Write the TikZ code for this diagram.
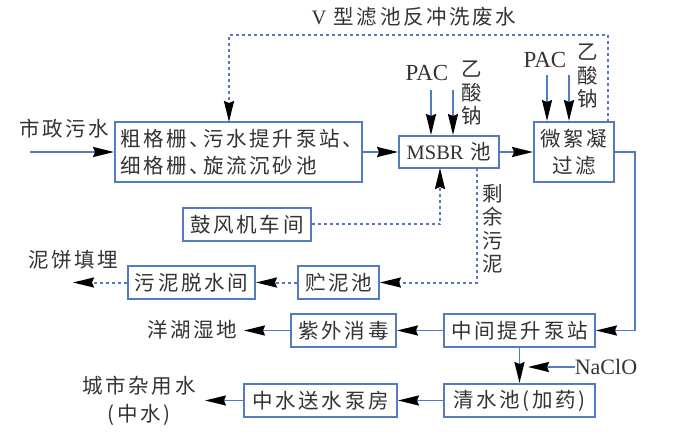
\documentclass[tikz,border=0pt]{standalone}
\usepackage{fontspec}
\usepackage{tikz}
\usetikzlibrary{arrows.meta}
\setmainfont{Liberation Serif}
\newfontfamily\cjk[LetterSpace=13]{Noto Sans CJK SC}
\definecolor{cblue}{rgb}{0.33, 0.48, 0.76}
\definecolor{cgray}{rgb}{0.2, 0.2, 0.2}
\newcommand{\dunhao}{、\kern-7pt}

\begin{document}
\begin{tikzpicture}[x=1pt,y=-1pt,>={Stealth[length=21pt,width=10pt,inset=2pt,color=black,fill=black]},
  box node/.style={draw=cblue,line width=1.9pt,fill=white,inner sep=0pt,text=cgray,
        font=\cjk\fontsize{20.5}{23.5}\selectfont,align=center},
  label node/.style={inner sep=0pt,text=cgray,font=\cjk\fontsize{20.5}{23.5}\selectfont,align=center},
  latin node/.style={inner sep=0pt,text=cgray,font=\rmfamily\fontsize{23}{26}\selectfont},
  flow line/.style={->,cblue,line width=1.9pt},
  dot line/.style={->,cblue,line width=2pt,dash pattern=on 3pt off 3pt}]
  \useasboundingbox (0,0) rectangle (690,446);

  \node[box node,minimum width=247,minimum height=60] (pre) at (238.5,152) {\parbox{236pt}{粗格栅\dunhao 污水提升泵站\dunhao\\[4pt]细格栅\dunhao 旋流沉砂池}};
  \node[box node,minimum width=100,minimum height=32] (msbr) at (449,152) {{\rmfamily MSBR} 池};
  \node[box node,minimum width=80,minimum height=60] (filter) at (574,152) {微絮凝\\[4pt]过滤};
  \node[box node,minimum width=128,minimum height=33] (blower) at (247,224.5) {鼓风机车间};
  \node[box node,minimum width=127,minimum height=33] (dewater) at (191.5,282.5) {污泥脱水间};
  \node[box node,minimum width=81,minimum height=33] (store) at (338.5,282.5) {贮泥池};
  \node[box node,minimum width=105,minimum height=33] (uv) at (343.5,330.5) {紫外消毒};
  \node[box node,minimum width=151,minimum height=33] (lift) at (519.5,330.5) {中间提升泵站};
  \node[box node,minimum width=153,minimum height=33] (send) at (320.5,400.5) {中水送水泵房};
  \node[box node,minimum width=151,minimum height=33] (clear) at (519.5,400.5) {清水池(加药)};

  \node[label node] (city) at (64,129) {市政污水};
  \node[label node] (backwash) at (414,17) {{\rmfamily V} 型滤池反冲洗废水};
  \node[latin node] (pac1) at (427,73) {PAC};
  \node[label node] (acid1) at (472,93) {乙\\酸\\钠};
  \node[latin node] (pac2) at (545,60) {PAC};
  \node[label node] (acid2) at (588,76) {乙\\酸\\钠};
  \node[label node] (sludge) at (493,229) {剩\\余\\污\\泥};
  \node[label node] (cake) at (73,260) {泥饼填埋};
  \node[label node] (lake) at (192,330) {洋湖湿地};
  \node[label node] (reuse) at (139,401) {城市杂用水\\[5pt](中水)};
  \node[latin node,font=\rmfamily\fontsize{22}{26}\selectfont] (naclo) at (606,367) {NaClO};

  \coordinate (in) at (30,152);
  \coordinate (c1) at (431,90);
  \coordinate (c2) at (453,90);
  \coordinate (c3) at (547,75);
  \coordinate (c4) at (569,75);
  \coordinate (c5) at (440,168);
  \coordinate (c6) at (477,168);
  \coordinate (c7) at (608,122);
  \coordinate (c8) at (229,122);
  \coordinate (c9) at (73,282.5);
  \coordinate (c10) at (244,330.5);
  \coordinate (c11) at (205,400.5);
  \coordinate (c12) at (528,367);

  \path[flow line]
    (in) edge (in -| pre.west)
    (pre.east) edge (msbr.west)
    (msbr.east) edge (filter.west)
    (c1) edge (c1 |- msbr.north)
    (c2) edge (c2 |- msbr.north)
    (c3) edge (c3 |- filter.north)
    (c4) edge (c4 |- filter.north)
    (lift.west) edge (uv.east)
    (uv.west) edge (c10)
    (lift.south) edge (clear.north)
    (naclo.west) edge (c12)
    (clear.west) edge (send.east)
    (send.west) edge (c11);
  \draw[flow line] (filter.east) -- ++(20,0) |- (lift.east);

  \draw[dot line] (c7) -- ++(0,-87) -| (c8);
  \draw[dot line] (blower.east) -| (c5);
  \draw[dot line] (c6) |- (store.east);
  \path[dot line]
    (store.west) edge (dewater.east)
    (dewater.west) edge (c9);
\end{tikzpicture}
\end{document}
